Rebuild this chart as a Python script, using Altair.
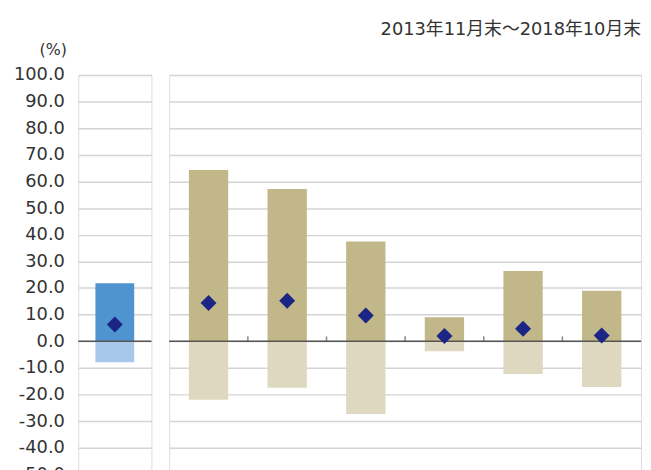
import altair as alt
import pandas as pd

# ---- data ----
fund_names = ["当ファンド"]
fund_max = [21.8]
fund_min = [-7.9]
fund_avg = [6.3]

asset_names = ["日本株", "先進国株", "新興国株", "日本国債", "先進国債", "新興国債"]
asset_max = [64.3, 57.2, 37.5, 9.0, 26.4, 19.0]
asset_min = [-21.9, -17.4, -27.3, -3.7, -12.3, -17.2]
asset_avg = [14.4, 15.2, 9.7, 2.0, 4.7, 2.2]

y_ticks = list(range(-50, 101, 10))
period_label = "2013年11月末～2018年10月末"
unit_label = "(%)"

Y_DOMAIN = [-50, 100]
H = 404
LEFT_W = 74
RIGHT_W = 477
GRID = "#d4d4d4"
TEXT = "#333333"
FONT = "DejaVu Sans, Noto Sans CJK JP"


def table(names, mx, mn, avg):
    return pd.DataFrame({"name": names, "max": mx, "min": mn, "avg": avg, "zero": [0] * len(names)})


def panel(df, width, band, dark, light, axis, extra=None):
    order = list(df["name"])
    yscale = alt.Scale(domain=Y_DOMAIN, nice=False, zero=False)
    xenc = alt.X("name:N", sort=order, axis=None,
                 scale=alt.Scale(paddingInner=0, paddingOuter=0))
    base = alt.Chart(df).encode(x=xenc)
    up = base.mark_bar(width=alt.RelativeBandSize(band), color=dark).encode(
        y=alt.Y("max:Q", scale=yscale, axis=axis), y2="zero:Q")
    down = base.mark_bar(width=alt.RelativeBandSize(band), color=light).encode(
        y=alt.Y("min:Q", scale=yscale, axis=axis), y2="zero:Q")
    zero = alt.Chart(pd.DataFrame({"v": [0]})).mark_rule(
        color="#555555", strokeWidth=1.5).encode(
        y=alt.Y("v:Q", scale=yscale, axis=axis))
    pts = base.mark_point(shape="diamond", filled=True, size=260,
                          color="#1b2585", opacity=1).encode(
        y=alt.Y("avg:Q", scale=yscale, axis=axis))
    layers = [up, down, zero]
    if extra is not None:
        layers += extra(order, yscale, axis)
    layers.append(pts)
    return alt.layer(*layers).properties(width=width, height=H)


left_axis = alt.Axis(
    values=y_ticks,
    labelExpr="replace(format(datum.value, '.1f'), '\u2212', '-')",
    labelOverlap=False, labelSeparation=0,
    grid=True, gridColor=GRID, gridWidth=1.5,
    ticks=False, domain=False,
    labelFont="DejaVu Sans", labelFontSize=18, labelColor=TEXT, labelPadding=14,
    title=unit_label, titleAngle=0, titleX=-12, titleY=-26,
    titleAlign="right", titleBaseline="middle",
    titleFont="DejaVu Sans", titleFontSize=16, titleFontWeight="normal",
    titleColor=TEXT,
)
right_axis = alt.Axis(values=y_ticks, grid=True, gridColor=GRID, gridWidth=1.5,
                      labels=False, ticks=False, domain=False, title=None)


def right_extra(order, yscale, axis):
    bdf = pd.DataFrame({"name": order[1:], "zero": [0] * (len(order) - 1)})
    ticks = alt.Chart(bdf).mark_tick(orient="vertical", size=5, thickness=1.5,
                                     color="#555555", yOffset=-2.5).encode(
        x=alt.X("name:N", sort=order, bandPosition=0, axis=None),
        y=alt.Y("zero:Q", scale=yscale, axis=axis))
    head = alt.Chart(pd.DataFrame({"t": [period_label]})).mark_text(
        align="right", baseline="middle", font=FONT,
        fontSize=18, color=TEXT).encode(
        text="t:N", x=alt.value(RIGHT_W), y=alt.value(-45))
    return [ticks, head]


left = panel(table(fund_names, fund_max, fund_min, fund_avg), LEFT_W, 0.53,
             "#4f94ce", "#a8c8ea", left_axis)
right = panel(table(asset_names, asset_max, asset_min, asset_avg), RIGHT_W, 0.5,
              "#c2b789", "#ddd8bf", right_axis, extra=right_extra)

chart = alt.hconcat(left, right, spacing=14).properties(
    padding={"left": 4, "top": 10, "right": 0, "bottom": 0}
).configure_view(stroke="#8a8a8a", strokeWidth=1.5).configure_axis(
    labelOverlap=False
).configure(background="white")

chart.save("out.html", embed_options={"renderer": "svg", "actions": False})
